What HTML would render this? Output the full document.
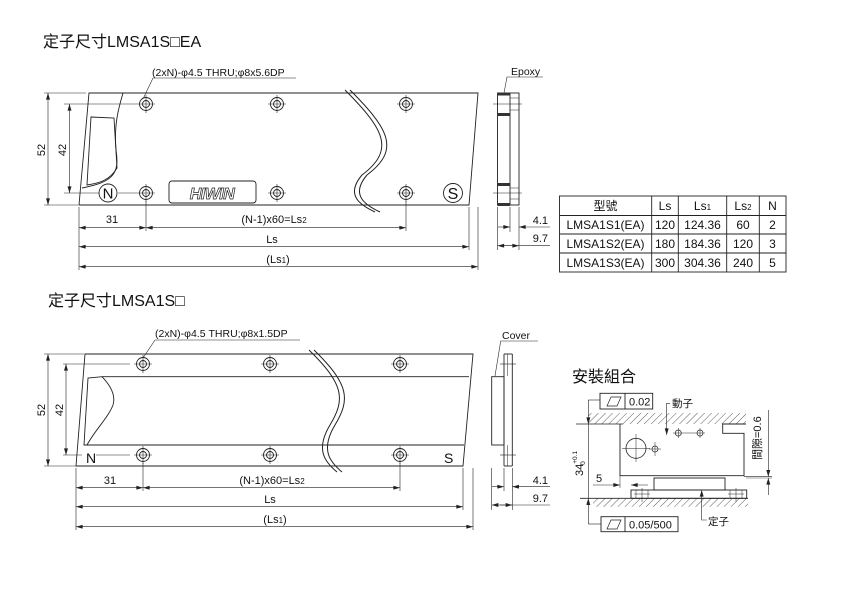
<!DOCTYPE html>
<html><head><meta charset="utf-8"><style>
html,body{margin:0;padding:0;background:#fff;}
svg{display:block;}
text{font-family:"Liberation Sans","Noto Sans CJK TC",sans-serif;}
</style></head><body>
<svg width="850" height="595" viewBox="0 0 850 595" xmlns="http://www.w3.org/2000/svg">
<defs>
<marker id="a" viewBox="0 0 10 6" refX="10" refY="3" markerWidth="7" markerHeight="4" orient="auto-start-reverse" markerUnits="userSpaceOnUse"><path d="M0,0 L10,3 L0,6z" fill="#222"/></marker>
<pattern id="h" width="5" height="5" patternUnits="userSpaceOnUse" patternTransform="rotate(45)"><line x1="0" y1="0" x2="0" y2="5" stroke="#333" stroke-width="0.8"/></pattern>
<g id="hole"><circle r="6.5" fill="#fff" stroke="#222" stroke-width="0.9"/><circle r="3.5" fill="none" stroke="#222" stroke-width="0.9"/><line x1="-9" y1="0" x2="9" y2="0" stroke="#222" stroke-width="0.6"/><line x1="0" y1="-9" x2="0" y2="9" stroke="#222" stroke-width="0.6"/></g>
</defs>
<g fill="none" stroke="#222" stroke-width="0.9">

<path d="M89,93 L478,93 L469,205 L79,205 Z"/>
<path d="M123,93 C118,110 114,125 116,150 C120,175 112,182 82,188"/>
<path d="M91,117 L114,118 L117,168 C110,180 100,183 87,185 Z"/>
<path d="M345,90 C385,130 395,150 362,175 C345,195 360,205 375,212" stroke-width="1"/>
<path d="M350,90 C390,130 400,150 367,175 C350,195 365,205 380,212" stroke-width="1"/>
<rect x="169" y="181" width="87" height="22" rx="3"/>
<circle cx="108" cy="193" r="9"/>
<circle cx="453" cy="193" r="9.5"/>
<line x1="44" y1="93" x2="86" y2="93" stroke-width="0.6"/>
<line x1="44" y1="205" x2="78" y2="205" stroke-width="0.6"/>
<line x1="48" y1="93" x2="48" y2="205" stroke-width="0.6" marker-start="url(#a)" marker-end="url(#a)"/>
<line x1="64" y1="104" x2="137" y2="104" stroke-width="0.6"/>
<line x1="64" y1="193" x2="99" y2="193" stroke-width="0.6"/>
<line x1="118" y1="193" x2="137" y2="193" stroke-width="0.6"/>
<line x1="69.5" y1="104" x2="69.5" y2="193" stroke-width="0.6" marker-start="url(#a)" marker-end="url(#a)"/>
<polyline points="143,99 153,78 296,78" stroke-width="0.6"/>
<line x1="79" y1="207" x2="79" y2="270" stroke-width="0.6"/>
<line x1="146" y1="201" x2="146" y2="231" stroke-width="0.6"/>
<line x1="406" y1="201" x2="406" y2="231" stroke-width="0.6"/>
<line x1="469" y1="207" x2="469" y2="250" stroke-width="0.6"/>
<line x1="478" y1="207" x2="478" y2="270" stroke-width="0.6"/>
<line x1="79" y1="227.7" x2="146" y2="227.7" stroke-width="0.6" marker-start="url(#a)" marker-end="url(#a)"/>
<line x1="146" y1="227.7" x2="406" y2="227.7" stroke-width="0.6" marker-start="url(#a)" marker-end="url(#a)"/>
<line x1="79" y1="246.7" x2="469" y2="246.7" stroke-width="0.6" marker-start="url(#a)" marker-end="url(#a)"/>
<line x1="79" y1="266.7" x2="478" y2="266.7" stroke-width="0.6" marker-start="url(#a)" marker-end="url(#a)"/>
<rect x="497.5" y="93" width="21.5" height="112"/>
<line x1="510" y1="93" x2="510" y2="205"/>
<line x1="493" y1="104" x2="522" y2="104" stroke-width="0.6"/>
<line x1="493" y1="193" x2="522" y2="193" stroke-width="0.6"/>
<line x1="510" y1="98" x2="519" y2="98" stroke-width="0.5"/>
<line x1="510" y1="110" x2="519" y2="110" stroke-width="0.5"/>
<line x1="510" y1="188" x2="519" y2="188" stroke-width="0.5"/>
<line x1="510" y1="199" x2="519" y2="199" stroke-width="0.5"/>
<polyline points="504,93 507,77 543,77" stroke-width="0.6"/>
<line x1="497.5" y1="207" x2="497.5" y2="250" stroke-width="0.6"/>
<line x1="510" y1="207" x2="510" y2="232" stroke-width="0.6"/>
<line x1="519" y1="207" x2="519" y2="250" stroke-width="0.6"/>
<line x1="498" y1="227" x2="510" y2="227" stroke-width="0.6" marker-end="url(#a)"/>
<line x1="550" y1="227" x2="519" y2="227" stroke-width="0.6" marker-end="url(#a)"/>
<line x1="497.5" y1="245.7" x2="550" y2="245.7" stroke-width="0.6" marker-start="url(#a)"/>
<line x1="519" y1="245.7" x2="505" y2="245.7" stroke-width="0.6" marker-start="url(#a)"/>
<rect x="559.5" y="196" width="226.5" height="76"/>
<line x1="559.5" y1="215.5" x2="786" y2="215.5"/>
<line x1="559.5" y1="234" x2="786" y2="234"/>
<line x1="559.5" y1="253" x2="786" y2="253"/>
<line x1="651.7" y1="196" x2="651.7" y2="272"/>
<line x1="678.3" y1="196" x2="678.3" y2="272"/>
<line x1="726.7" y1="196" x2="726.7" y2="272"/>
<line x1="759.3" y1="196" x2="759.3" y2="272"/>

<path d="M85,354 L473,354 L463,466 L76,466 Z"/>
<path d="M102,376.7 L469,376.7"/>
<path d="M86,445 L464,445"/>
<path d="M102,376.7 C110,385 116,395 113,405 C108,418 95,430 87,445 L84,445 L88,378 Z"/>
<path d="M309,350 C345,385 345,400 330,425 C315,450 325,462 337,472" stroke-width="1"/>
<path d="M314,350 C350,385 350,400 335,425 C320,450 330,462 342,472" stroke-width="1"/>
<line x1="44" y1="354" x2="84" y2="354" stroke-width="0.6"/>
<line x1="44" y1="466" x2="76" y2="466" stroke-width="0.6"/>
<line x1="48" y1="354" x2="48" y2="466" stroke-width="0.6" marker-start="url(#a)" marker-end="url(#a)"/>
<line x1="63" y1="364" x2="130" y2="364" stroke-width="0.6"/>
<line x1="63" y1="455" x2="82" y2="455" stroke-width="0.6"/>
<line x1="96" y1="455" x2="130" y2="455" stroke-width="0.6"/>
<line x1="66" y1="364" x2="66" y2="455" stroke-width="0.6" marker-start="url(#a)" marker-end="url(#a)"/>
<polyline points="143,358 155,340 300,340" stroke-width="0.6"/>
<line x1="76" y1="468" x2="76" y2="530" stroke-width="0.6"/>
<line x1="143" y1="463" x2="143" y2="491" stroke-width="0.6"/>
<line x1="400" y1="463" x2="400" y2="491" stroke-width="0.6"/>
<line x1="463" y1="468" x2="463" y2="510" stroke-width="0.6"/>
<line x1="473" y1="468" x2="473" y2="530" stroke-width="0.6"/>
<line x1="76" y1="487.7" x2="143" y2="487.7" stroke-width="0.6" marker-start="url(#a)" marker-end="url(#a)"/>
<line x1="143" y1="487.7" x2="400" y2="487.7" stroke-width="0.6" marker-start="url(#a)" marker-end="url(#a)"/>
<line x1="76" y1="506.7" x2="463" y2="506.7" stroke-width="0.6" marker-start="url(#a)" marker-end="url(#a)"/>
<line x1="76" y1="526.7" x2="473" y2="526.7" stroke-width="0.6" marker-start="url(#a)" marker-end="url(#a)"/>
<rect x="491.7" y="376.7" width="12.3" height="68.3"/>
<line x1="504" y1="354" x2="504" y2="466"/>
<line x1="512.3" y1="354" x2="512.3" y2="466"/>
<line x1="504" y1="354" x2="512.3" y2="354"/>
<line x1="504" y1="466" x2="512.3" y2="466"/>
<line x1="507.3" y1="354" x2="507.3" y2="376" stroke-width="0.5"/>
<line x1="507.3" y1="445" x2="507.3" y2="466" stroke-width="0.5"/>
<line x1="500" y1="364" x2="516" y2="364" stroke-width="0.6"/>
<line x1="500" y1="455" x2="516" y2="455" stroke-width="0.6"/>
<polyline points="495,376 500.7,341 538,341" stroke-width="0.6"/>
<line x1="491.7" y1="468" x2="491.7" y2="510" stroke-width="0.6"/>
<line x1="504" y1="468" x2="504" y2="491" stroke-width="0.6"/>
<line x1="512.3" y1="468" x2="512.3" y2="510" stroke-width="0.6"/>
<line x1="492" y1="486.7" x2="504" y2="486.7" stroke-width="0.6" marker-end="url(#a)"/>
<line x1="550" y1="486.7" x2="512.3" y2="486.7" stroke-width="0.6" marker-end="url(#a)"/>
<line x1="491.7" y1="505" x2="550" y2="505" stroke-width="0.6" marker-start="url(#a)"/>
<line x1="512.3" y1="505" x2="500" y2="505" stroke-width="0.6" marker-start="url(#a)"/>

<rect x="588" y="413" width="158" height="11" fill="url(#h)" stroke="none"/>
<rect x="593" y="498.3" width="155" height="8.5" fill="url(#h)" stroke="none"/>
<line x1="576" y1="424" x2="623" y2="424" stroke-width="0.8"/>
<line x1="580" y1="498.3" x2="748" y2="498.3" stroke-width="0.8"/>
<path d="M620,424 L620,475.7 L744,475.7 L744,433.3 L722.7,433.3 L722.7,424 L746,424"/>
<circle cx="636" cy="448.3" r="10" stroke-width="0.8"/>
<line x1="622" y1="448.3" x2="650" y2="448.3" stroke-width="0.5"/>
<line x1="636" y1="434" x2="636" y2="462" stroke-width="0.5"/>
<circle cx="655" cy="449" r="3" stroke-width="0.7"/>
<line x1="649" y1="449" x2="661" y2="449" stroke-width="0.5"/>
<line x1="655" y1="442" x2="655" y2="456" stroke-width="0.5"/>
<circle cx="678.3" cy="433" r="3" stroke-width="0.7"/>
<circle cx="700" cy="433" r="3" stroke-width="0.7"/>
<line x1="673" y1="433" x2="705" y2="433" stroke-width="0.5"/>
<line x1="678.3" y1="428" x2="678.3" y2="438" stroke-width="0.5"/>
<line x1="700" y1="428" x2="700" y2="438" stroke-width="0.5"/>
<rect x="654" y="478" width="71" height="12"/>
<rect x="631" y="490" width="115.7" height="8.3"/>
<line x1="636" y1="490" x2="636" y2="498" stroke-width="0.5"/><line x1="642" y1="488" x2="642" y2="502" stroke-width="0.5"/><line x1="648" y1="490" x2="648" y2="498" stroke-width="0.5"/><line x1="634" y1="494" x2="650" y2="494" stroke-width="0.5"/>
<line x1="730" y1="490" x2="730" y2="498" stroke-width="0.5"/><line x1="736" y1="488" x2="736" y2="502" stroke-width="0.5"/><line x1="742" y1="490" x2="742" y2="498" stroke-width="0.5"/><line x1="728" y1="494" x2="744" y2="494" stroke-width="0.5"/>
<line x1="588.3" y1="400" x2="588.3" y2="424" stroke-width="0.6" marker-end="url(#a)"/>
<line x1="588.3" y1="424" x2="588.3" y2="498" stroke-width="0.6"/>
<line x1="588.3" y1="524" x2="588.3" y2="498.3" stroke-width="0.6" marker-end="url(#a)"/>
<line x1="588.3" y1="400" x2="600" y2="400" stroke-width="0.6"/>
<line x1="588.3" y1="524" x2="601" y2="524" stroke-width="0.6"/>
<line x1="620" y1="476" x2="620" y2="488" stroke-width="0.5"/>
<line x1="593" y1="485" x2="620" y2="485" stroke-width="0.6" marker-end="url(#a)"/>
<line x1="648" y1="485" x2="631" y2="485" stroke-width="0.6" marker-end="url(#a)"/>
<line x1="744" y1="476.7" x2="772" y2="476.7" stroke-width="0.6"/>
<line x1="746" y1="478" x2="772" y2="478" stroke-width="0.4"/>
<line x1="768.3" y1="410" x2="768.3" y2="476.7" stroke-width="0.6" marker-end="url(#a)"/>
<line x1="768.3" y1="495" x2="768.3" y2="478" stroke-width="0.6" marker-end="url(#a)"/>
<polyline points="670,403.3 666.7,403.3 666.7,435" stroke-width="0.6" marker-end="url(#a)"/>
<polyline points="706.7,520 701.7,520 701.7,490" stroke-width="0.6" marker-end="url(#a)"/>
<rect x="600" y="393.3" width="52.7" height="15.7"/>
<line x1="625" y1="393.3" x2="625" y2="409"/>
<path d="M607,406 L611,397 L621,397 L617,406 Z" stroke-width="0.7"/>
<rect x="601" y="516.7" width="77" height="15"/>
<line x1="625" y1="516.7" x2="625" y2="531.7"/>
<path d="M607,529 L611,520 L621,520 L617,529 Z" stroke-width="0.7"/>
</g>

<use href="#hole" x="146" y="104"/><use href="#hole" x="277" y="104"/><use href="#hole" x="406" y="104"/>
<use href="#hole" x="146" y="193"/><use href="#hole" x="277" y="193"/><use href="#hole" x="406" y="193"/>
<use href="#hole" x="143" y="364"/><use href="#hole" x="270" y="364"/><use href="#hole" x="400" y="364"/>
<use href="#hole" x="143" y="455"/><use href="#hole" x="270" y="455"/><use href="#hole" x="400" y="455"/>

<g fill="#333">
<rect x="497.5" y="92.5" width="12.5" height="3"/>
<rect x="497.5" y="113" width="12.5" height="3"/>
<rect x="497.5" y="183" width="12.5" height="3"/>
<rect x="497.5" y="203" width="12.5" height="3"/>
</g>

<g fill="#111">
<text x="43" y="47" font-size="16">定子尺寸LMSA1S□EA</text>
<text x="48" y="306" font-size="16">定子尺寸LMSA1S□</text>
<text x="572" y="382" font-size="16">安裝組合</text>

<text x="152" y="76" font-size="10.5">(2xN)-φ4.5 THRU;φ8x5.6DP</text>
<text x="155" y="337" font-size="10.5">(2xN)-φ4.5 THRU;φ8x1.5DP</text>
<text x="511" y="75" font-size="10.5">Epoxy</text>
<text x="502" y="339" font-size="10.5">Cover</text>

<text x="108" y="198.5" font-size="15" text-anchor="middle">N</text>
<text x="453" y="199" font-size="16" text-anchor="middle">S</text>
<text x="86" y="463" font-size="14">N</text>
<text x="444" y="463" font-size="14">S</text>

<g font-size="11" text-anchor="middle">
<text transform="translate(45,150) rotate(-90)">52</text>
<text transform="translate(66,150) rotate(-90)">42</text>
<text transform="translate(45,410) rotate(-90)">52</text>
<text transform="translate(63,410) rotate(-90)">42</text>
<text x="112" y="223">31</text>
<text x="274" y="223">(N-1)x60=Ls<tspan font-size="8">2</tspan></text>
<text x="272" y="243">Ls</text>
<text x="278" y="263">(Ls<tspan font-size="8">1</tspan>)</text>
<text x="110" y="484">31</text>
<text x="272" y="484">(N-1)x60=Ls<tspan font-size="8">2</tspan></text>
<text x="270" y="503">Ls</text>
<text x="275" y="523">(Ls<tspan font-size="8">1</tspan>)</text>
</g>
<g font-size="11" text-anchor="end">
<text x="548" y="224">4.1</text>
<text x="548" y="242">9.7</text>
<text x="548" y="484">4.1</text>
<text x="548" y="502">9.7</text>
</g>
<g font-size="12" text-anchor="middle">
<text x="605.5" y="210">型號</text><text x="665" y="210">Ls</text><text x="702.5" y="210">Ls<tspan font-size="8">1</tspan></text><text x="743" y="210">Ls<tspan font-size="8">2</tspan></text><text x="772.5" y="210">N</text>
<text x="605.5" y="229">LMSA1S1(EA)</text><text x="665" y="229">120</text><text x="702.5" y="229">124.36</text><text x="743" y="229">60</text><text x="772.5" y="229">2</text>
<text x="605.5" y="248">LMSA1S2(EA)</text><text x="665" y="248">180</text><text x="702.5" y="248">184.36</text><text x="743" y="248">120</text><text x="772.5" y="248">3</text>
<text x="605.5" y="267">LMSA1S3(EA)</text><text x="665" y="267">300</text><text x="702.5" y="267">304.36</text><text x="743" y="267">240</text><text x="772.5" y="267">5</text>
</g>
<text x="629" y="405.5" font-size="11">0.02</text>
<text x="629" y="528.5" font-size="11">0.05/500</text>
<text x="672" y="407" font-size="10.5">動子</text>
<text x="708" y="525" font-size="10.5">定子</text>
<text x="596" y="482" font-size="11">5</text>
<text transform="translate(583,476) rotate(-90)" font-size="11">34<tspan font-size="6.5" dy="-6">+0.1</tspan><tspan font-size="6.5" dx="-14" dy="8">0</tspan></text>
<text transform="translate(761,460) rotate(-90)" font-size="11">間隙=0.6</text>
</g>
<text x="212" y="199" font-size="16" font-style="italic" font-weight="bold" font-family="Liberation Serif, serif" text-anchor="middle" style="fill:#fff;stroke:#222;stroke-width:0.7" letter-spacing="-0.5">HIWIN</text>
</svg>
</body></html>
